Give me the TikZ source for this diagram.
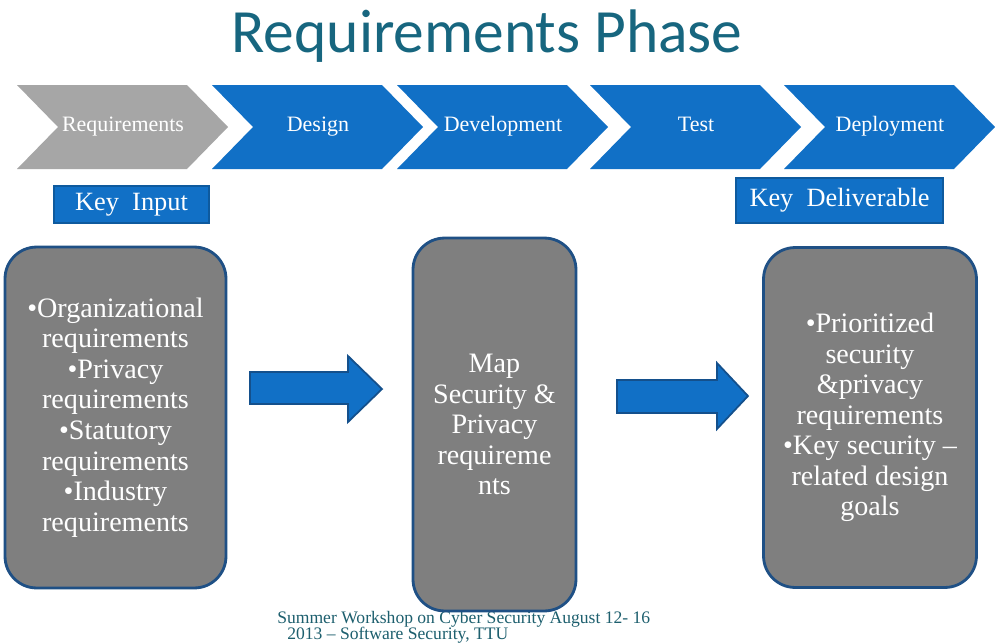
\documentclass[tikz,border=0pt]{standalone}
\usepackage{fontspec}
\setmainfont{Liberation Serif}
\newfontfamily\titlefont{Carlito}
\usepackage{tikz}
\definecolor{chevblue}{HTML}{1170C6}
\definecolor{chevgrey}{HTML}{A6A6A6}
\definecolor{boxgrey}{HTML}{7F7F7F}
\definecolor{boxedge}{HTML}{1F5085}
\definecolor{keyedge}{HTML}{0E5A9E}
\definecolor{arredge}{HTML}{14508C}
\definecolor{titleteal}{HTML}{17667F}
\definecolor{footteal}{HTML}{1D5F6E}
\begin{document}
\begin{tikzpicture}[x=0.02cm, y=-0.02cm,
    phase/.style={text=white, text height=1.6ex, text depth=0.45ex, font=\fontsize{12.5}{15}\selectfont},
    keybox/.style={draw=keyedge, line width=1pt, fill=chevblue, text=white, inner sep=0pt, font=\fontsize{15}{18}\selectfont},
    infobox/.style={draw=boxedge, line width=1.6pt, fill=boxgrey, rounded corners=18pt, text=white, align=center, inner sep=0pt, font=\fontsize{16}{17.4}\selectfont},
    blockarr/.style={draw=arredge, line width=1pt, fill=chevblue},
    foot/.style={anchor=base west, text=footteal, inner sep=0pt, font=\fontsize{10}{12}\selectfont}
]
\clip (0,0) rectangle (995,643);
\fill[white] (0,0) rectangle (995,643);
% title
\node[anchor=base, text=titleteal, inner sep=0pt, font=\titlefont\fontsize{35}{40}\selectfont] (title) at (487,52) {Requirements Phase};
% phase chevrons
\foreach \x/\col/\lbl/\nm in {17/chevgrey/Requirements/req, 212/chevblue/Design/des, 397/chevblue/Development/dev, 590/chevblue/Test/tst, 784/chevblue/Deployment/dep}{
  \fill[\col] (\x,85) -- (\x+170,85) -- (\x+211,127) -- (\x+170,169) -- (\x,169) -- (\x+41,127) -- cycle;
  \node[phase] (\nm) at (\x+106,127) {\lbl};
}
% key labels
\node[keybox, minimum width=3.1cm, minimum height=0.74cm] (keyin) at (131.5,204.5) {Key\ \ Input};
\node[keybox, minimum width=4.14cm, minimum height=0.9cm] (keyout) at (839.5,200.5) {Key\ \ Deliverable};
% footer
\node[foot] (foot1) at (277,623) {Summer Workshop on Cyber Security August 12- 16};
\node[foot] (foot2) at (287,639) {2013 -- Software Security, TTU};
% boxes
\node[infobox, minimum width=4.42cm, minimum height=6.82cm] (inbox) at (115.5,417.5) {%
  •Organizational\\requirements\\•Privacy\\requirements\\•Statutory\\requirements\\•Industry\\requirements};
\node[infobox, minimum width=3.26cm, minimum height=7.46cm] (mapbox) at (494.5,424.5) {%
  Map\\Security \&\\Privacy\\requireme\\nts};
\node[infobox, minimum width=4.26cm, minimum height=6.8cm] (outbox) at (870,417.5) {%
  •Prioritized\\security\\\&privacy\\requirements\\•Key security --\\related design\\goals};
% block arrows
\draw[blockarr] (250,372) -- (348,372) -- (348,356) -- (382,389) -- (348,422) -- (348,404) -- (250,404) -- cycle;
\draw[blockarr] (617,380) -- (717,380) -- (717,363) -- (748,396) -- (717,429) -- (717,413) -- (617,413) -- cycle;
\end{tikzpicture}
\end{document}
